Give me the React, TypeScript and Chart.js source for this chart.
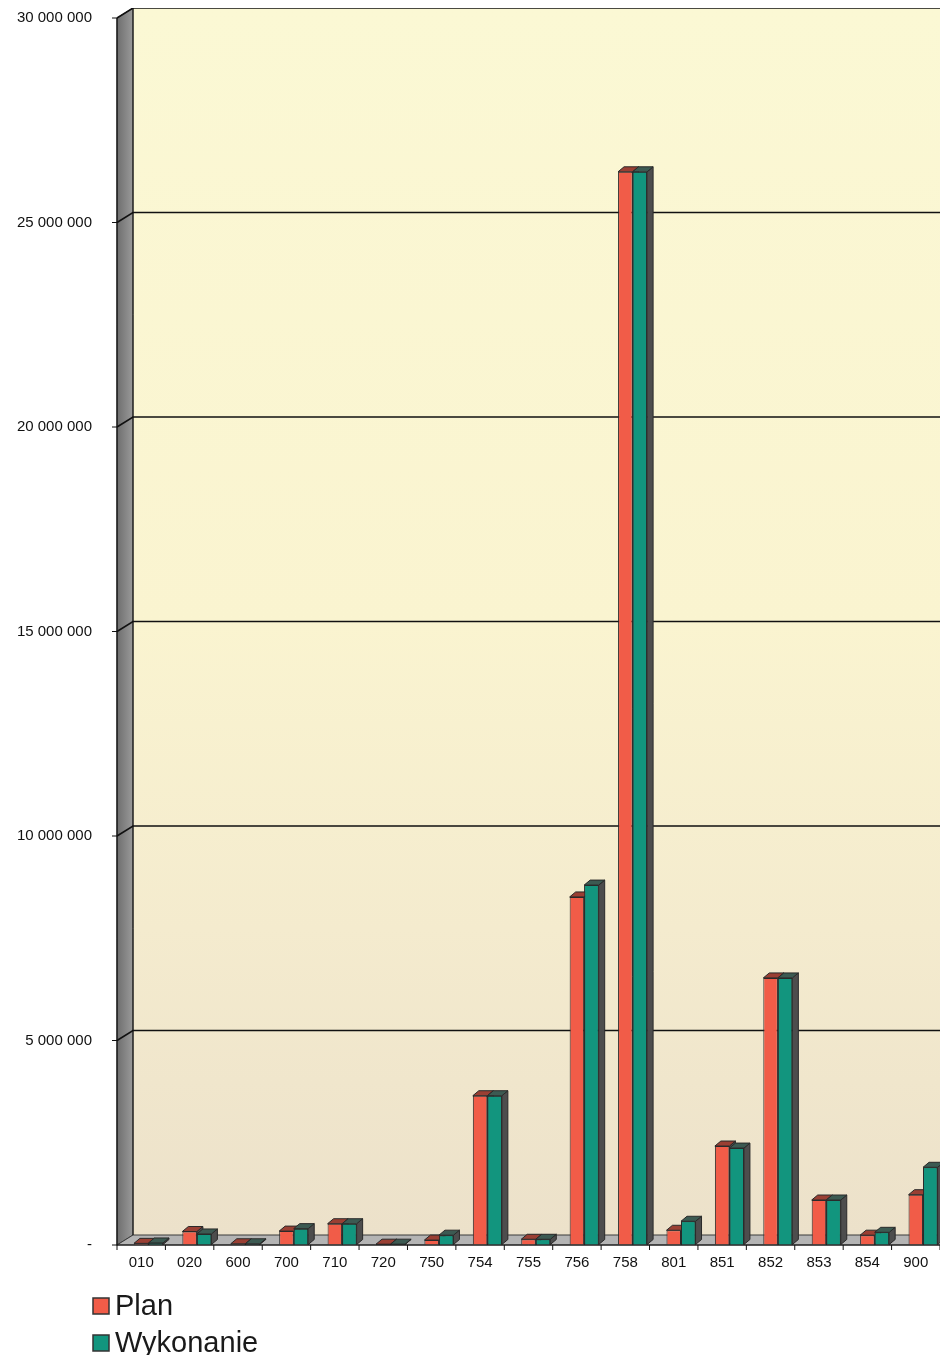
import { useEffect, useRef } from 'react';
import { Chart, registerables } from 'chart.js';

Chart.register(...registerables);

const categories = ['010', '020', '600', '700', '710', '720', '750', '754', '755', '756', '758', '801', '851', '852', '853', '854', '900'];
const planValues = [40000, 330000, 30000, 340000, 520000, 20000, 120000, 3650000, 140000, 8510000, 26240000, 360000, 2420000, 6530000, 1100000, 240000, 1230000];
const wykonanieValues = [50000, 270000, 30000, 400000, 520000, 20000, 240000, 3650000, 140000, 8800000, 26240000, 580000, 2370000, 6530000, 1100000, 310000, 1900000];
const seriesLabels = ['Plan', 'Wykonanie'];
const seriesColors = ['#F15C48', '#12957E'];
const seriesTopColors = ['#9A3F33', '#3C5A52'];
const yMax = 30000000;
const yStep = 5000000;

const FONT = '"Liberation Sans", Arial, sans-serif';
const DX = 16;
const DY = 10;
const BD = 6;
const BDY = 5;

const fmt = (v: number) => (v === 0 ? '-' : String(v).replace(/\B(?=(\d{3})+(?!\d))/g, ' '));

const scenePlugin = {
  id: 'scene3d',
  beforeDraw(chart: any) {
    const { ctx, chartArea } = chart;
    const { left, right, top, bottom } = chartArea;
    const W = chart.width;
    const y = chart.scales.y;
    ctx.save();
    const g = ctx.createLinearGradient(0, top - DY, 0, bottom - DY);
    g.addColorStop(0, '#FBF8D4');
    g.addColorStop(0.5, '#FAF4D0');
    g.addColorStop(0.75, '#F4EBCE');
    g.addColorStop(1, '#ECE1CA');
    ctx.fillStyle = g;
    ctx.fillRect(left + DX, top - DY, W - (left + DX), bottom - top);
    // left wall
    ctx.beginPath();
    ctx.moveTo(left, top);
    ctx.lineTo(left + DX, top - DY);
    ctx.lineTo(left + DX, bottom - DY);
    ctx.lineTo(left, bottom);
    ctx.closePath();
    const lg = ctx.createLinearGradient(left, 0, left + DX, 0);
    lg.addColorStop(0, '#6E6E6E');
    lg.addColorStop(1, '#9A9A9A');
    ctx.fillStyle = lg;
    ctx.fill();
    ctx.strokeStyle = '#3a3a3a';
    ctx.lineWidth = 1;
    ctx.stroke();
    // floor
    ctx.beginPath();
    ctx.moveTo(left, bottom);
    ctx.lineTo(left + DX, bottom - DY);
    ctx.lineTo(right + DX, bottom - DY);
    ctx.lineTo(right, bottom);
    ctx.closePath();
    ctx.fillStyle = '#B4B4B4';
    ctx.fill();
    ctx.stroke();
    // gridlines
    ctx.strokeStyle = '#111';
    ctx.lineWidth = 1.6;
    y.ticks.forEach((t: any) => {
      if (t.value === 0) return;
      const py = y.getPixelForValue(t.value);
      ctx.beginPath();
      ctx.moveTo(left, py);
      ctx.lineTo(left + DX, py - DY);
      ctx.lineTo(W, py - DY);
      ctx.stroke();
    });
    ctx.lineWidth = 1;
    ctx.beginPath();
    ctx.moveTo(left + DX, top - DY);
    ctx.lineTo(left + DX, bottom - DY);
    ctx.stroke();
    ctx.restore();
  },
  afterDatasetsDraw(chart: any) {
    const { ctx, chartArea } = chart;
    const { left, right, top, bottom } = chartArea;
    const y = chart.scales.y;
    const metaPlan = chart.getDatasetMeta(1);
    const metaWyk = chart.getDatasetMeta(2);
    const drawFaces = (bar: any, idx: number) => {
      const p = bar.getProps(['x', 'y', 'base', 'width'], true);
      const xl = p.x - p.width / 2;
      const xr = p.x + p.width / 2;
      ctx.strokeStyle = '#2a2a2a';
      ctx.lineWidth = 1;
      ctx.beginPath();
      ctx.moveTo(xr, p.y);
      ctx.lineTo(xr + BD, p.y - BDY);
      ctx.lineTo(xr + BD, p.base - BDY);
      ctx.lineTo(xr, p.base);
      ctx.closePath();
      ctx.fillStyle = '#4D4D4D';
      ctx.fill();
      ctx.stroke();
      ctx.beginPath();
      ctx.moveTo(xl, p.y);
      ctx.lineTo(xl + BD, p.y - BDY);
      ctx.lineTo(xr + BD, p.y - BDY);
      ctx.lineTo(xr, p.y);
      ctx.closePath();
      ctx.fillStyle = seriesTopColors[idx];
      ctx.fill();
      ctx.stroke();
    };
    ctx.save();
    metaPlan.data.forEach((bar: any, i: number) => {
      drawFaces(bar, 0);
      const wb = metaWyk.data[i];
      wb.draw(ctx);
      drawFaces(wb, 1);
    });
    ctx.strokeStyle = '#111';
    ctx.lineWidth = 1.2;
    ctx.beginPath();
    ctx.moveTo(left, top);
    ctx.lineTo(left, bottom);
    ctx.lineTo(right, bottom);
    ctx.stroke();
    ctx.lineWidth = 1;
    y.ticks.forEach((t: any) => {
      const py = y.getPixelForValue(t.value);
      ctx.beginPath();
      ctx.moveTo(left - 5, py);
      ctx.lineTo(left, py);
      ctx.stroke();
    });
    const n = categories.length;
    const cw = (right - left) / n;
    for (let i = 0; i <= n; i++) {
      const px = left + i * cw;
      ctx.beginPath();
      ctx.moveTo(px, bottom);
      ctx.lineTo(px, bottom + 5);
      ctx.stroke();
    }
    ctx.restore();
  },
  afterDraw(chart: any) {
    const { ctx } = chart;
    ctx.save();
    const items = chart.data.datasets.slice(1);
    items.forEach((ds: any, i: number) => {
      const sy = 1290 + i * 37;
      ctx.fillStyle = ds.backgroundColor;
      ctx.fillRect(85, sy, 16, 16);
      ctx.strokeStyle = '#333';
      ctx.lineWidth = 1.5;
      ctx.strokeRect(85, sy, 16, 16);
      ctx.fillStyle = '#1a1a1a';
      ctx.font = `29px ${FONT}`;
      ctx.textBaseline = 'alphabetic';
      ctx.textAlign = 'left';
      ctx.fillText(ds.label, 107, sy + 17);
    });
    ctx.restore();
  },
};

export default function App() {
  const ref = useRef<HTMLCanvasElement | null>(null);
  useEffect(() => {
    if (!ref.current) return;
    const chart = new Chart(ref.current, {
      type: 'bar',
      data: {
        labels: categories,
        datasets: [
          { label: '', data: categories.map(() => null), backgroundColor: 'rgba(0,0,0,0)' },
          { label: seriesLabels[0], data: planValues, backgroundColor: seriesColors[0], borderColor: '#2a2a2a', borderWidth: 1 },
          { label: seriesLabels[1], data: wykonanieValues, backgroundColor: seriesColors[1], borderColor: '#2a2a2a', borderWidth: 1 },
        ] as any,
      },
      options: {
        animation: false,
        responsive: true,
        maintainAspectRatio: false,
        datasets: { bar: { categoryPercentage: 0.9, barPercentage: 1.0 } },
        layout: { padding: { top: 10, right: 8, left: 0, bottom: 0 } },
        plugins: { legend: { display: false }, tooltip: { enabled: false } },
        scales: {
          x: {
            grid: { display: false },
            border: { display: false },
            ticks: { color: '#111', font: { family: FONT, size: 15 }, padding: 1, maxRotation: 0, autoSkip: false },
            afterFit: (s: any) => { s.height = 110; },
          },
          y: {
            min: 0,
            max: yMax,
            grid: { display: true, color: 'rgba(0,0,0,0)', drawOnChartArea: false, drawTicks: true, tickLength: 24 },
            border: { display: false },
            ticks: { stepSize: yStep, color: '#111', font: { family: FONT, size: 15 }, padding: 1, callback: (v: any) => fmt(Number(v)) },
            afterFit: (s: any) => { s.width = 109; },
          },
        },
      },
      plugins: [scenePlugin],
    });
    return () => chart.destroy();
  }, []);
  return (
    <div style={{ width: 940, height: 1347, position: 'relative' }}>
      <canvas ref={ref} />
    </div>
  );
}
